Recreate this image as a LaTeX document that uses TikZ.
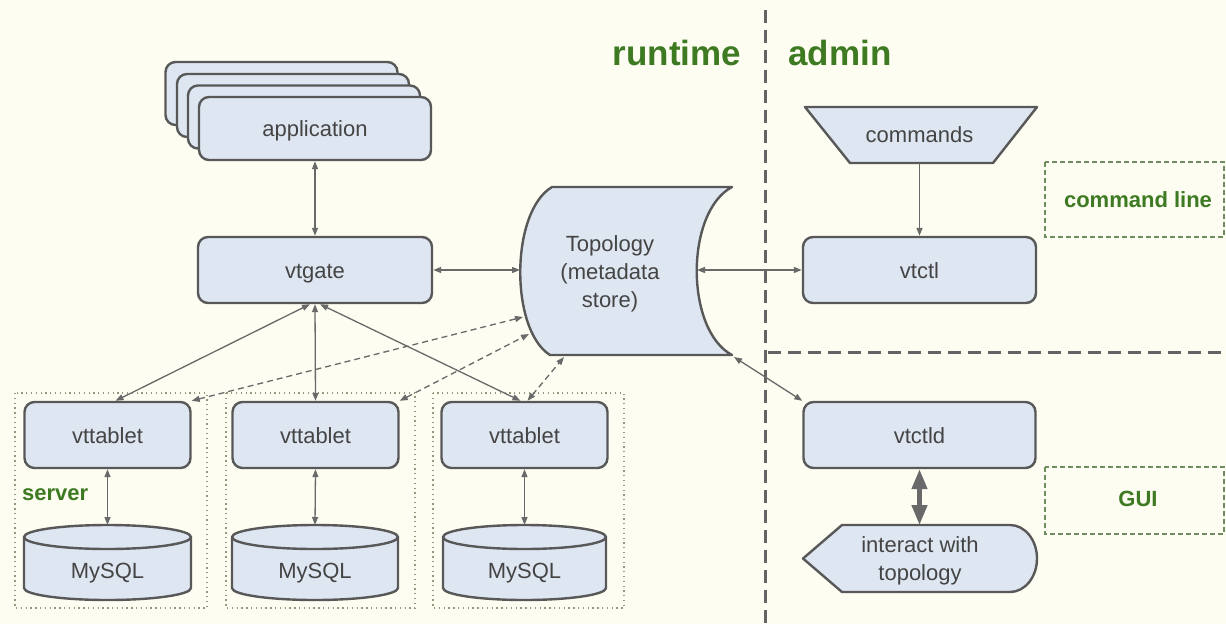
\documentclass[tikz,border=0pt]{standalone}
\usepackage{fontspec}
\setmainfont{Liberation Sans}
\usetikzlibrary{arrows.meta}
\definecolor{bg}{RGB}{254,253,242}
\definecolor{boxfill}{RGB}{222,230,241}
\definecolor{boxline}{RGB}{88,88,88}
\definecolor{txt}{RGB}{68,68,68}
\definecolor{grn}{RGB}{61,122,34}
\definecolor{arrc}{RGB}{105,105,105}
\definecolor{sepc}{RGB}{100,100,100}
\definecolor{dashg}{RGB}{110,140,95}
\definecolor{dotc}{RGB}{150,150,125}
\begin{document}
\begin{tikzpicture}[x=1pt,y=-1pt,
  box/.style={draw=boxline, fill=boxfill, line width=2.4pt, rounded corners=10pt,
    minimum width=233pt, minimum height=66pt, text=txt,
    font=\fontsize{22}{28}\selectfont, inner sep=0pt, text height=16pt, text depth=0pt},
  tabbox/.style={box, minimum width=166pt},
  shp/.style={draw=boxline, fill=boxfill, line width=2.4pt, line join=round},
  lbl/.style={text=txt, font=\fontsize{22}{28}\selectfont, align=center, inner sep=0pt},
  anch/.style={inner sep=0pt, outer sep=0pt},
  glbl/.style={text=grn, font=\fontsize{22}{26}\selectfont\bfseries, inner sep=0pt},
  titlelbl/.style={text=grn, font=\fontsize{35}{40}\selectfont\bfseries, inner sep=0pt},
  tip/.tip={Triangle[length=8pt,width=6pt]},
  bigtip/.tip={Triangle[length=20pt,width=15pt]},
  arr/.style={draw=arrc, line width=1.3pt, tip-tip},
  darr/.style={arr, dash pattern=on 6pt off 4pt},
  thickarr/.style={draw=arrc, line width=4.5pt, bigtip-bigtip},
  sep/.style={draw=sepc, line width=3pt, dash pattern=on 13pt off 7pt},
  groupbox/.style={draw=dashg, line width=1.2pt, dash pattern=on 5pt off 3pt},
  serverbox/.style={draw=dotc, line width=1.3pt, dash pattern=on 1.3pt off 3.5pt},
]
% background and bounding box
\fill[bg] (0,0) rectangle (1226,624);
\useasboundingbox (0,0) rectangle (1226,624);

% server groups
\draw[serverbox] (15,393) rectangle (207,608);
\draw[serverbox] (226,393) rectangle (415,608);
\draw[serverbox] (433,393) rectangle (624,608);

% separators
\draw[sep] (765,10) -- (765,624);
\draw[sep] (768,352) -- (1226,352);

% admin group boxes
\draw[groupbox] (1045,162) rectangle (1224,237);
\draw[groupbox] (1045,467) rectangle (1224,534);

% application stack
\node[box, minimum width=232pt, minimum height=63pt] (app4) at (281.5,93.5) {};
\node[box, minimum width=232pt, minimum height=63pt] (app3) at (293,105.5) {};
\node[box, minimum width=232pt, minimum height=63pt] (app2) at (304,117) {};
\node[box, minimum width=232pt, minimum height=63pt] (app) at (315,128.5) {application};

% vtgate
\node[box, minimum width=234pt] (vtgate) at (315,270) {vtgate};

% topology store
\path[shp] (552,187) -- (732,187) .. controls (685,212) and (685,330) .. (732,355)
  -- (550,355) .. controls (510,330) and (510,212) .. (552,187) -- cycle;
\node[lbl] (topo) at (610,273.5) {Topology\\(metadata\\store)};
\coordinate (topoW) at (520,270);
\coordinate (topoE) at (697,270);
\coordinate (topoL1) at (523,317);
\coordinate (topoL2) at (529,334);
\coordinate (topoB) at (564,357);
\coordinate (topoBR) at (734,357);

% commands
\path[shp] (805,107) -- (1037,107) -- (993,163) -- (850,163) -- cycle;
\node[lbl, minimum width=188pt, minimum height=56pt] (cmd) at (919.5,135) {commands};

% vtctl, vtctld
\node[box] (vtctl) at (919.5,270) {vtctl};
\node[box, minimum width=232pt] (vtctld) at (919.5,435) {vtctld};

% interact with topology
\path[shp] (803,558.5) -- (842,525) -- (1010,525) arc (90:-90:27pt and 33.5pt) -- (842,592) -- cycle;
\node[anch, minimum width=234pt, minimum height=67pt] (interact) at (919.5,558.5) {};
\node[lbl] (interacttext) at (920,561) {interact with\\topology};

% vttablets
\node[tabbox] (vt1) at (107.5,435) {vttablet};
\node[tabbox] (vt2) at (315.5,435) {vttablet};
\node[tabbox] (vt3) at (524.5,435) {vttablet};

% MySQL cylinders
\foreach \xl/\xr in {24/191,232/398,443/606}{
  \pgfmathsetmacro\rx{(\xr-\xl)/2}
  \path[shp] (\xl,537) -- (\xl,588) arc (180:360:{\rx pt} and 12pt) -- (\xr,537)
    arc (0:180:{\rx pt} and 12pt) -- cycle;
  \draw[boxline, line width=2.4pt] (\xl,537) arc (180:360:{\rx pt} and 12pt);
}
\node[anch, minimum width=167pt, minimum height=75pt] (db1) at (107.5,562.5) {};
\node[anch, minimum width=166pt, minimum height=75pt] (db2) at (315,562.5) {};
\node[anch, minimum width=163pt, minimum height=75pt] (db3) at (524.5,562.5) {};
\node[lbl] (db1t) at (107.5,573) {MySQL};
\node[lbl] (db2t) at (315,573) {MySQL};
\node[lbl] (db3t) at (524.5,573) {MySQL};

% labels
\node[titlelbl, anchor=base] (runtime) at (677,65) {runtime};
\node[titlelbl, anchor=base] (admin) at (840,65) {admin};
\node[glbl] (cmdline) at (1138,200) {command line};
\node[glbl] (gui) at (1138,499) {GUI};
\node[glbl, anchor=west] (server) at (22,495) {server};

% connectors
\draw[arr] (app.south) -- (vtgate.north);
\draw[arr] (vtgate.east) -- (topoW);
\draw[arr] (topoE) -- (vtctl.west);
\draw[draw=arrc, line width=1.3pt, -tip] (cmd.south) -- (vtctl.north);
\draw[arr] (topoBR) -- (vtctld.north west);
\draw[thickarr] (vtctld.south) -- (interact.north);

\draw[arr] ([xshift=-5pt]vtgate.south) -- ([xshift=8pt]vt1.north);
\draw[arr] (vtgate.south) -- (vt2.north);
\draw[arr] ([xshift=5pt]vtgate.south) -- ([xshift=-4pt]vt3.north);

\draw[darr] (vt1.north east) -- (topoL1);
\draw[darr] (vt2.north east) -- (topoL2);
\draw[darr] ([xshift=3pt]vt3.north) -- (topoB);

\draw[arr] (vt1.south) -- (db1.north);
\draw[arr] (vt2.south) -- (db2.north);
\draw[arr] (vt3.south) -- (db3.north);
\end{tikzpicture}
\end{document}
